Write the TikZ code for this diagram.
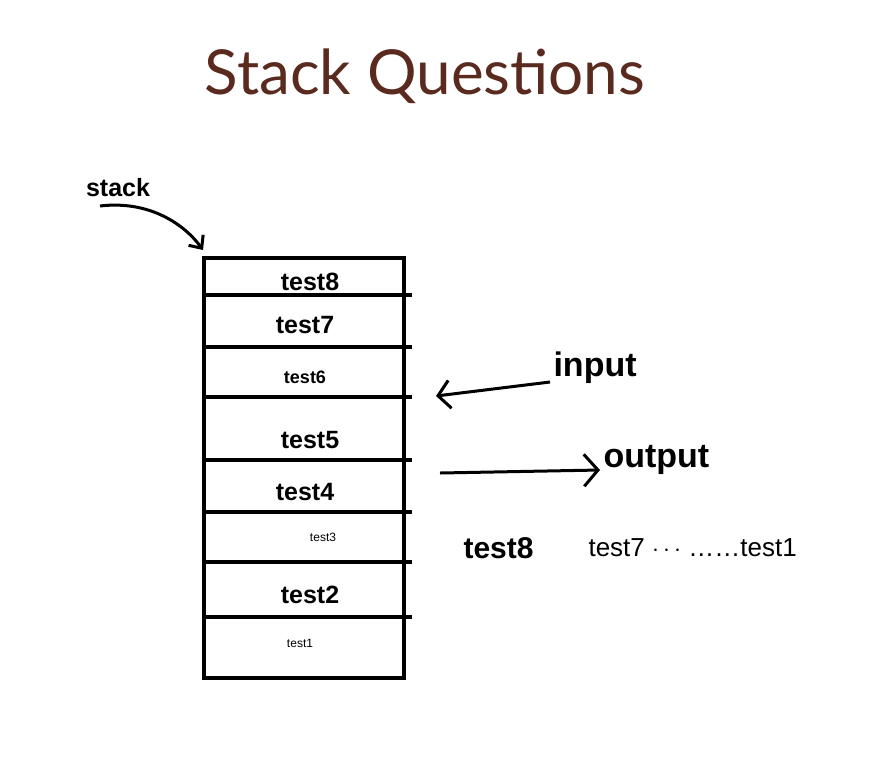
\documentclass[tikz,border=0pt]{standalone}
\usepackage{fontspec}
\setmainfont{Liberation Sans}
\newfontfamily\titlefont{Lato}
\usetikzlibrary{arrows.meta}
\definecolor{titlebrown}{HTML}{5A2A1E}
\begin{document}
\begin{tikzpicture}[x=1pt,y=-1pt,
  hand/.style={line width=4pt,black},
  lab/.style={font=\bfseries\fontsize{25}{27}\selectfont},
  small/.style={font=\fontsize{12}{14}\selectfont}]
\useasboundingbox (0,0) rectangle (869,756);
\node[font=\titlefont\fontsize{62}{66}\selectfont,text=titlebrown] (title) at (425,76) {Stack Questions};
% stack box
\draw[hand] (204,258) rectangle (404,678);
\foreach \y in {295,347,397,460,512,562,617} \draw[hand] (204,\y) -- (412,\y);
\node[lab] (t8) at (310,282) {test8};
\node[lab] (t7) at (305,325) {test7};
\node[lab,font=\bfseries\fontsize{18}{20}\selectfont] (t6) at (305,377) {test6};
\node[lab] (t5) at (310,440) {test5};
\node[lab] (t4) at (305,492) {test4};
\node[small] (t3) at (323,537) {test3};
\node[lab] (t2) at (310,595) {test2};
\node[small] (t1) at (300,643) {test1};
% stack pointer
\node[lab] (stk) at (118,188) {stack};
\coordinate (stkstart) at (100,206);
\coordinate (stkend) at (203,250);
\draw[line width=3pt,-{Straight Barb[length=10pt,width=18pt]}] (stkstart) .. controls (150,200) and (185,225) .. (stkend);
% input
\node[lab,font=\bfseries\fontsize{34}{36}\selectfont,anchor=west] (in) at (550,368) {input};
\coordinate (instart) at (550,382);
\coordinate (inend) at (436,396);
\draw[line width=3pt,-{Straight Barb[length=12pt,width=28pt]}] (instart) -- (inend);
% output
\node[lab,font=\bfseries\fontsize{34}{36}\selectfont,anchor=west] (out) at (600,460) {output};
\coordinate (outstart) at (440,473);
\coordinate (outend) at (600,470);
\draw[line width=3pt,-{Straight Barb[length=14pt,width=32pt]}] (outstart) -- (outend);
% order
\node[lab,font=\bfseries\fontsize{30}{32}\selectfont,anchor=west] (ord1) at (460,548) {test8};
\node[font=\fontsize{26}{28}\selectfont,anchor=west] (ord2) at (585,548) {test7 $\cdots$ \dots\dots test1};
\end{tikzpicture}
\end{document}
